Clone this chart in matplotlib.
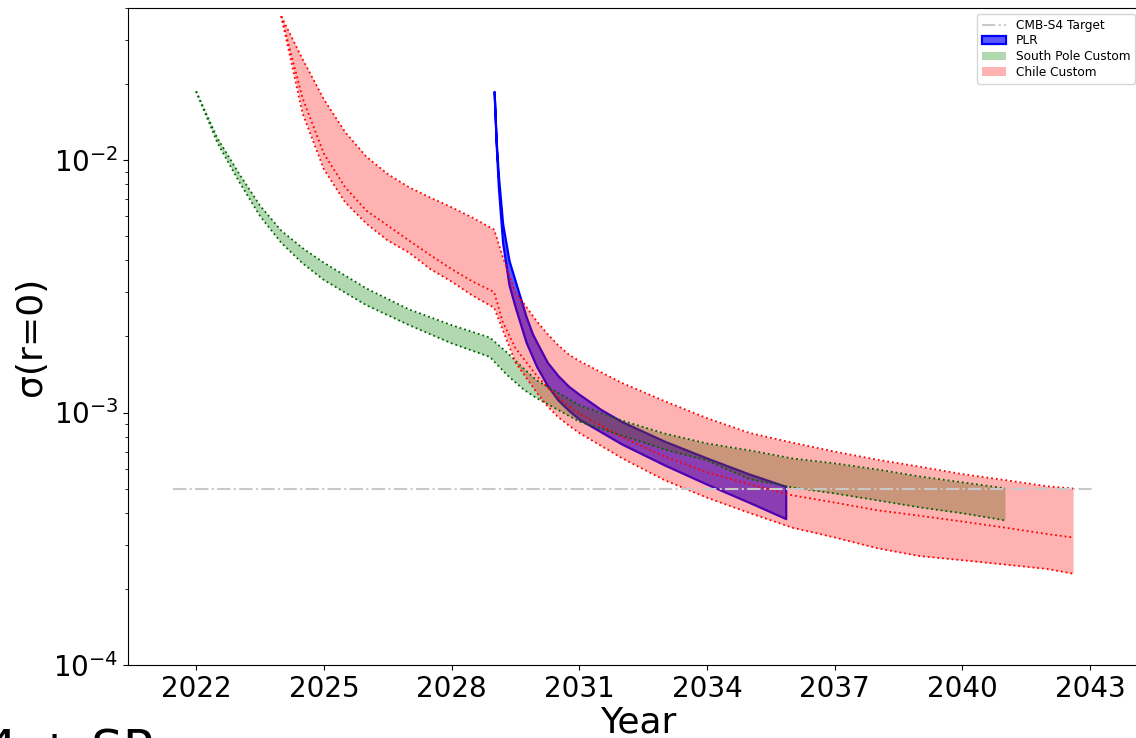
import matplotlib
matplotlib.use("Agg")
import matplotlib.pyplot as plt

# --- veriler ---
hedef_yil = [2021.45, 2043.05]
hedef_deger = [5e-4, 5e-4]

# PLR
plr_yil = [2029.0, 2029.05, 2029.1, 2029.2, 2029.35, 2029.5, 2029.75, 2029.9,
           2030.0, 2030.25, 2030.5, 2030.75, 2031.0, 2031.5, 2032.0, 2033.0,
           2034.0, 2035.0, 2035.85]
plr_ust = [0.0187, 0.0118, 0.0087, 0.0056, 0.0040, 0.0033, 0.0024, 0.00205,
           0.00190, 0.00158, 0.00140, 0.00127, 0.00118, 0.00103, 0.00092, 0.00077,
           0.00066, 0.00057, 0.00051]
plr_alt = [0.0187, 0.0114, 0.0078, 0.0047, 0.0032, 0.0026, 0.0019, 0.00166,
           0.00152, 0.00128, 0.00112, 0.00102, 0.00094, 0.00084, 0.00075, 0.00062,
           0.00052, 0.00044, 0.00038]

# South Pole Custom
sp_yil = [2022.0, 2022.5, 2023.0, 2023.5, 2024.0, 2024.5, 2025.0, 2026.0, 2027.0,
          2028.0, 2028.9, 2029.3, 2029.7, 2030.0, 2031.0, 2032.0, 2033.0, 2034.0,
          2035.0, 2036.0, 2037.0, 2038.0, 2039.0, 2040.0, 2041.0]
sp_ust = [0.0187, 0.0122, 0.00888, 0.00660, 0.00525, 0.00448, 0.00392, 0.00310,
          0.00256, 0.00222, 0.00198, 0.00173, 0.00149, 0.00134, 0.00107, 0.00093,
          0.000826, 0.000754, 0.000708, 0.000658, 0.000629, 0.000595, 0.000558,
          0.000529, 0.000501]
sp_alt = [0.0187, 0.0117, 0.00826, 0.00600, 0.00470, 0.00390, 0.00335, 0.00266,
          0.00222, 0.00188, 0.00166, 0.00141, 0.00123, 0.00114, 0.000921, 0.000811,
          0.000714, 0.000646, 0.000545, 0.000505, 0.000478, 0.000449, 0.000421,
          0.000399, 0.000374]

# Chile Custom
cl_yil = [2024.0, 2024.5, 2025.0, 2025.5, 2026.0, 2026.5, 2027.0, 2027.5, 2028.0,
          2028.5, 2029.0, 2029.2, 2029.5, 2030.0, 2030.25, 2030.5, 2030.75, 2031.0,
          2032.0, 2033.0, 2034.0, 2035.0, 2036.0, 2037.0, 2038.0, 2039.0, 2040.0,
          2041.0, 2042.0, 2042.6]
cl_ust = [0.0371, 0.0251, 0.0174, 0.0129, 0.0103, 0.0088, 0.0078, 0.0071, 0.0065,
          0.0059, 0.0053, 0.00415, 0.00300, 0.00230, 0.00205, 0.00185, 0.00170,
          0.00160, 0.00131, 0.00111, 0.00095, 0.00083, 0.00076, 0.00070, 0.00065,
          0.00061, 0.00057, 0.00054, 0.00051, 0.00050]
cl_orta = [0.0371, 0.0176, 0.0106, 0.0078, 0.0063, 0.0055, 0.0048, 0.0042, 0.0037,
           0.0033, 0.0030, 0.00229, 0.00180, 0.00140, 0.00126, 0.00115, 0.00106,
           0.00099, 0.00080, 0.00067, 0.00058, 0.00052, 0.00047, 0.00044, 0.00041,
           0.00039, 0.00037, 0.00035, 0.00033, 0.00032]
cl_alt = [0.0371, 0.0153, 0.0092, 0.0068, 0.0056, 0.0048, 0.0043, 0.0037, 0.0033,
          0.0029, 0.0026, 0.00213, 0.00158, 0.00120, 0.00106, 0.00096, 0.00089,
          0.00083, 0.00066, 0.00054, 0.00046, 0.00040, 0.00035, 0.00032, 0.00029,
          0.00027, 0.00026, 0.00025, 0.00024, 0.00023]

xtikler = [2022, 2025, 2028, 2031, 2034, 2037, 2040, 2043]

fig = plt.figure(figsize=(11.36, 7.38), dpi=100)
ax = fig.add_axes([128 / 1136, 1 - 665 / 738, 1020 / 1136, 657 / 738])

# hedef cizgisi
ax.plot(hedef_yil, hedef_deger, "-.", color="#c8c8c8", lw=1.5, label="CMB-S4 Target",
        zorder=3)

# PLR (mavi bant, duz kenar)
ax.fill_between(plr_yil, plr_alt, plr_ust, facecolor=(0, 0, 1, 0.65),
                edgecolor="blue", lw=1.6, label="PLR")

# South Pole (yesil, noktali kenar)
ax.fill_between(sp_yil, sp_alt, sp_ust, color="green", alpha=0.3, lw=0,
                label="South Pole Custom")
ax.plot(sp_yil, sp_ust, ":", color="darkgreen", lw=1.3)
ax.plot(sp_yil, sp_alt, ":", color="darkgreen", lw=1.3)

# Chile (kirmizi, noktali kenar + orta cizgi)
ax.fill_between(cl_yil, cl_alt, cl_ust, color="red", alpha=0.3, lw=0,
                label="Chile Custom")
ax.plot(cl_yil, cl_ust, ":", color="red", lw=1.3)
ax.plot(cl_yil, cl_orta, ":", color="red", lw=1.3)
ax.plot(cl_yil, cl_alt, ":", color="red", lw=1.3)

ax.set_yscale("log")
ax.set_ylim(1e-4, 0.04)
ax.set_xlim(2020.40, 2044.36)
ax.set_xticks(xtikler)
ax.tick_params(labelsize=20)
ax.set_xlabel("Year", fontsize=26, labelpad=2)
ax.set_ylabel("σ(r=0)", fontsize=26)

ax.legend(loc="upper right", bbox_to_anchor=(1135 / 1136, 1 - 14 / 738),
          bbox_transform=fig.transFigure, borderaxespad=0,
          fontsize=8.7, labelspacing=0.22)

# slayttan kesik kalan yazi
fig.text(-0.012, 1 - 728 / 738, "4 + SP", fontsize=36, va="top", ha="left")

fig.savefig("out.png", dpi=100)
